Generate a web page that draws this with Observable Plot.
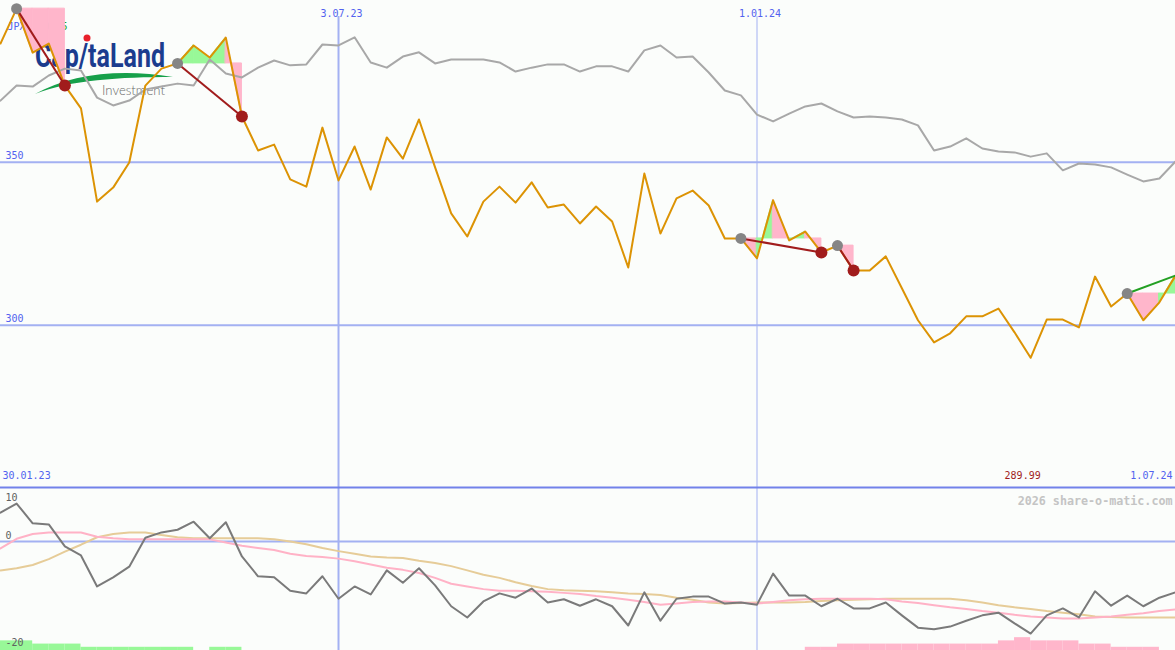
<!DOCTYPE html>
<html><head><meta charset="utf-8">
<script src="https://cdn.jsdelivr.net/npm/d3@7"></script>
<script src="https://cdn.jsdelivr.net/npm/@observablehq/plot@0.6"></script>
<style>
body{margin:0;background:#fbfdfb;}
#wrap{position:relative;width:1175px;height:650px;overflow:hidden;background:#fbfdfb;}
#logo{position:absolute;left:0;top:0;z-index:0;}
#top,#bottom{position:relative;z-index:1;}
#wrap svg{display:block;}
</style></head><body>
<div id="wrap">
<svg id="logo" width="320" height="120">
  <text x="35" y="67" font-family="Roboto, sans-serif" font-weight="700" font-size="34" fill="#1b3c8e" textLength="130" lengthAdjust="spacingAndGlyphs">Cap/taLand</text>
  <circle cx="87" cy="38" r="3.5" fill="#e8202a"/>
  <path d="M35,94 C70,74 120,68 173,77 C120,77 70,80 35,94 Z" fill="#16a04a"/>
  <text x="102" y="95" font-family="Lato, sans-serif" font-weight="300" font-size="14" fill="#6a6a6a" textLength="63" lengthAdjust="spacingAndGlyphs">Investment</text>
</svg>
<div id="top"></div>
<div id="bottom"></div>
</div>
<script>
// ---- data ----
const startDate = "2023-02-06";   // first weekly close (Mondays)
const endDate = "2024-07-01";     // last weekly close
const price = [386.4, 397.1, 383.6, 386.4, 373.5, 366.5, 337.9, 342.2, 349.9, 373.5,
 378.7, 380.3, 385.8, 382.1, 388.2, 364.0, 353.6, 355.4, 344.7, 342.5,
 360.6, 344.4, 354.8, 341.6, 357.6, 351.1, 363.1, 348.4, 334.3, 327.2,
 337.9, 342.5, 337.6, 343.8, 336.1, 337.0, 331.2, 336.4, 331.8, 317.7,
 346.5, 328.1, 338.9, 341.3, 336.7, 326.6, 326.6, 320.5, 338.3, 326.0,
 328.7, 322.3, 324.4, 316.8, 316.8, 321.1, 311.3, 301.5, 294.7, 297.5,
 302.7, 302.7, 305.1, 297.8, 289.99, 301.7, 301.7, 299.3, 314.9, 305.7,
 309.7, 301.5, 307.0, 315.2];
const compare = [368.9, 373.5, 373.2, 376.6, 378.7, 378.1, 369.8, 367.4, 368.9, 372.3,
 373.2, 374.1, 373.5, 381.5, 377.2, 376.0, 379.0, 381.2, 379.7, 380.0,
 386.1, 385.8, 388.3, 380.6, 379.0, 382.4, 383.7, 380.3, 381.5, 381.5,
 381.5, 380.6, 377.8, 379.0, 380.0, 380.0, 377.8, 379.4, 379.4, 377.8,
 384.3, 385.8, 382.1, 382.4, 377.5, 372.0, 370.5, 364.6, 362.5, 364.9,
 367.1, 368.0, 365.6, 363.7, 364.0, 363.7, 363.1, 361.3, 353.6, 354.8,
 357.3, 354.2, 353.3, 353.0, 351.7, 352.7, 347.5, 349.6, 349.3, 348.4,
 346.2, 344.1, 345.0, 350.2];
const momentum = [5.4, 7.1, 3.4, 3.2, -0.9, -2.6, -8.4, -6.7, -4.7, 0.7,
 1.7, 2.2, 3.7, 0.6, 3.6, -2.8, -6.5, -6.7, -9.2, -9.7,
 -6.5, -10.7, -8.4, -9.9, -5.4, -7.7, -5.0, -8.2, -12.1, -14.2,
 -11.2, -9.7, -10.5, -8.8, -11.4, -10.8, -12.0, -10.8, -12.1, -15.7,
 -9.5, -14.8, -10.7, -10.3, -10.3, -11.6, -11.4, -11.8, -6.0, -10.1,
 -10.1, -12.1, -10.7, -12.5, -12.5, -11.4, -13.8, -16.1, -16.4, -15.9,
 -14.8, -13.8, -13.3, -15.3, -17.2, -13.8, -12.5, -14.2, -9.3, -12.0,
 -10.1, -12.1, -10.5, -9.5];
const avgFast = [-1.3, 0.5, 1.4, 1.7, 1.7, 1.7, 0.9, 0.6, 0.4, 0.4,
 0.4, 0.4, 0.4, 0.4, -0.2, -0.8, -1.2, -1.6, -2.3, -2.7,
 -2.9, -3.2, -3.7, -4.3, -4.9, -5.3, -5.9, -6.8, -7.9, -8.4,
 -8.9, -9.2, -9.2, -9.3, -9.4, -9.6, -9.8, -10.2, -10.5, -10.9,
 -11.3, -11.8, -11.6, -11.3, -11.2, -11.2, -11.4, -11.6, -11.3, -11.0,
 -10.8, -10.7, -10.7, -10.7, -10.7, -10.8, -11.2, -11.5, -11.9, -12.3,
 -12.6, -13.0, -13.3, -13.7, -14.0, -14.2, -14.4, -14.4, -14.2, -14.0,
 -13.7, -13.4, -13.0, -12.7];
const avgSlow = [-5.4, -5.0, -4.4, -3.3, -1.9, -0.6, 0.8, 1.4, 1.7, 1.7,
 1.2, 0.8, 0.6, 0.6, 0.6, 0.6, 0.6, 0.4, 0.0, -0.5,
 -1.2, -1.8, -2.3, -2.8, -3.0, -3.1, -3.6, -4.0, -4.6, -5.4,
 -6.2, -6.8, -7.6, -8.3, -8.9, -9.1, -9.2, -9.3, -9.5, -9.7,
 -9.8, -10.0, -10.5, -10.9, -11.4, -11.6, -11.5, -11.4, -11.4, -11.4,
 -11.3, -11.1, -11.0, -10.9, -10.8, -10.7, -10.7, -10.7, -10.7, -10.7,
 -11.0, -11.4, -11.9, -12.3, -12.6, -13.0, -13.3, -13.6, -14.0, -14.1,
 -14.2, -14.2, -14.2, -14.2];
const signal = [3,3,2,2,2,1,1,1,1,1, 1,1,0,1,1,0,0,0,0,0,
 0,0,0,0,0,0,0,0,0,0, 0,0,0,0,0,0,0,0,0,0,
 0,0,0,0,0,0,0,0,0,0, -1,-1,-2,-2,-2,-2,-2,-2,-2,-2,
 -2,-2,-3,-4,-3,-3,-3,-2,-2,-1, -1,-1,0,0];
// trend events: index of start (gray marker) and end (red marker)
const events = [
  {from: 1, to: 4, kind: "down"},
  {from: 11, to: 15, kind: "down"},
  {from: 46, to: 51, kind: "down"},
  {from: 52, to: 53, kind: "down"},
  {from: 70, to: 73, kind: "up"}
];
const priceGrid = [350, 300];
const momTop = [{v: 10, t: "10"}];
const momOther = [{v: 0, t: "0"}, {v: -20, t: "-20"}];
const vLines = [{date: "2023-07-03", label: "3.07.23", w: 2}, {date: "2024-01-01", label: "1.01.24", w: 1}];
const firstLabel = "30.01.23", lastLabel = "1.07.24", minLabel = "289.99", minIndex = 64;
const tickerLabel = "JPX", changeLabel = "+0.65";
const credit = "2026 share-o-matic.com";

// ---- styles ----
const BLUE_TXT = "#5262ef", GRID = "#a3b1f2", SEP = "#7282ea";
const ORANGE = "#dc9304", GRAYLINE = "#a8a8a8", DARKRED = "#a11c1c", GREENLINE = "#23a023";
const PINK = "#ffb6cb", GREEN = "#98f898";
const MONO = "DejaVu Sans Mono, monospace";

const dates = d3.utcMonday.range(new Date(startDate), d3.utcDay.offset(new Date(endDate), 1));
const vl = vLines.map(d => ({...d, date: new Date(d.date)}));
const rows = dates.map((d, i) => ({date: d, price: price[i], compare: compare[i], mom: momentum[i], fast: avgFast[i], slow: avgSlow[i], sig: signal[i], next: dates[i + 1]}));

const fillSegs = [];
events.forEach((e, k) => {
  const level = price[e.from];
  for (let i = e.from; i < e.to; i++) {
    const col = price[i + 1] < level ? PINK : GREEN;
    fillSegs.push({seg: k + "-" + i, date: dates[i], level, value: price[i], col});
    fillSegs.push({seg: k + "-" + i, date: dates[i + 1], level, value: price[i + 1], col});
  }
});

const xScale = {type: "utc", domain: [dates[0], dates[dates.length - 1]]};
const topH = 486, botH = 164;

const topPlot = Plot.plot({
  width: 1175, height: topH, margin: 0,
  x: {...xScale, axis: null},
  y: {domain: [250.5, 399.6], axis: null},
  color: {type: "identity"},
  style: {background: "transparent", overflow: "visible"},
  marks: [
    Plot.ruleY(priceGrid, {stroke: GRID, strokeWidth: 2}),
    Plot.ruleX(vl, {x: "date", stroke: GRID, strokeWidth: "w", insetTop: 16}),
    Plot.text([tickerLabel], {text: d => d, frameAnchor: "top-left", dx: 7, dy: 22, textAnchor: "start", fill: BLUE_TXT, fontFamily: MONO, fontSize: 10}),
    Plot.text([changeLabel], {text: d => d, frameAnchor: "top-left", dx: 67, dy: 22, textAnchor: "end", fill: "#20a020", fontFamily: MONO, fontSize: 10}),
    Plot.areaY(fillSegs, {x: "date", y1: "level", y2: "value", z: "seg", fill: "col", stroke: "col", strokeWidth: 1}),
    Plot.line(rows, {x: "date", y: "compare", stroke: GRAYLINE, strokeWidth: 2}),
    Plot.line(rows, {x: "date", y: "price", stroke: ORANGE, strokeWidth: 2}),
    Plot.link(events, {x1: e => dates[e.from], y1: e => price[e.from], x2: e => dates[e.to], y2: e => price[e.to], stroke: e => e.kind === "up" ? GREENLINE : DARKRED, strokeWidth: 2}),
    Plot.dot(events, {x: e => dates[e.from], y: e => price[e.from], r: 5.5, fill: "#858585"}),
    Plot.dot(events.filter(e => e.kind === "down"), {x: e => dates[e.to], y: e => price[e.to], r: 6, fill: DARKRED}),
    Plot.text(priceGrid, {y: d => d, text: d => String(d), frameAnchor: "left", dx: 5, dy: -6, textAnchor: "start", fill: BLUE_TXT, fontFamily: MONO, fontSize: 10}),
    Plot.text(vl, {x: "date", text: "label", frameAnchor: "top", dx: 3, dy: 9, fill: BLUE_TXT, fontFamily: MONO, fontSize: 10}),
    Plot.text([firstLabel], {text: d => d, frameAnchor: "bottom-left", dx: 2, dy: -8, textAnchor: "start", fill: BLUE_TXT, fontFamily: MONO, fontSize: 10}),
    Plot.text([lastLabel], {text: d => d, frameAnchor: "bottom-right", dx: -3, dy: -8, textAnchor: "end", fill: BLUE_TXT, fontFamily: MONO, fontSize: 10}),
    Plot.text([minLabel], {x: () => dates[minIndex], text: d => d, frameAnchor: "bottom", dx: -8, dy: -8, fill: DARKRED, fontFamily: MONO, fontSize: 10})
  ]
});
document.getElementById("top").appendChild(topPlot);

const momDomain = [-20.37, 10.28];
const barUnit = 0.6;
const botPlot = Plot.plot({
  width: 1175, height: botH, margin: 0,
  x: {...xScale, axis: null},
  y: {domain: momDomain, axis: null},
  color: {type: "identity"},
  style: {background: "transparent", overflow: "visible"},
  marks: [
    Plot.ruleY([0], {stroke: GRID, strokeWidth: 2}),
    Plot.ruleX(vl, {x: "date", stroke: GRID, strokeWidth: "w"}),
    Plot.ruleY([momDomain[1]], {stroke: SEP, strokeWidth: 2, dy: 1}),
    Plot.rect(rows.filter(d => d.sig !== 0 && d.next), {x1: "date", x2: "next", y1: momDomain[0], y2: d => momDomain[0] + Math.abs(d.sig) * barUnit, fill: d => d.sig > 0 ? GREEN : PINK}),
    Plot.line(rows, {x: "date", y: "slow", stroke: "#e6cc98", strokeWidth: 2}),
    Plot.line(rows, {x: "date", y: "fast", stroke: "#ffb2c6", strokeWidth: 2}),
    Plot.line(rows, {x: "date", y: "mom", stroke: "#7a7a7a", strokeWidth: 2}),
    Plot.text(momTop, {y: "v", text: "t", dy: 10, frameAnchor: "left", dx: 5, textAnchor: "start", fill: "#606060", fontFamily: MONO, fontSize: 10}),
    Plot.text(momOther, {y: "v", text: "t", dy: -6, frameAnchor: "left", dx: 5, textAnchor: "start", fill: "#606060", fontFamily: MONO, fontSize: 10}),
    Plot.text([credit], {text: d => d, frameAnchor: "top-right", dx: -3, dy: 10, textAnchor: "end", fill: "#c4c4c4", fontWeight: "bold", fontFamily: MONO, fontSize: 11.7})
  ]
});
document.getElementById("bottom").appendChild(botPlot);
</script>
</body></html>
